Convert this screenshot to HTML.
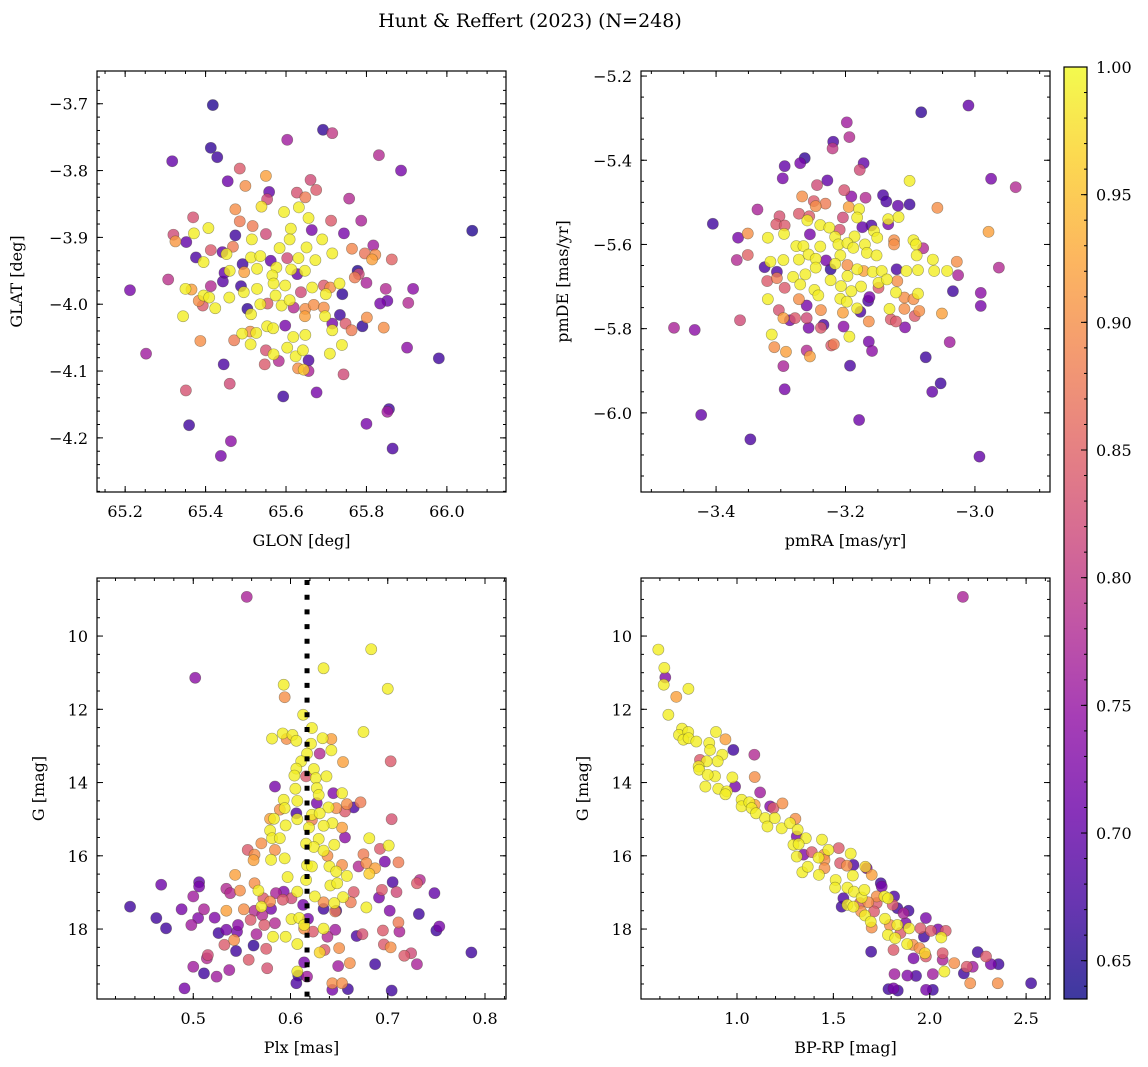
<!DOCTYPE html>
<html><head><meta charset="utf-8"><style>
body{margin:0;background:#fff;}
svg{display:block;font-family:"DejaVu Serif","Liberation Serif",serif;}
</style></head><body>
<svg id="fig" width="1148" height="1067" viewBox="0 0 1148 1067" xmlns="http://www.w3.org/2000/svg">
<defs><linearGradient id="plasma" x1="0" y1="1" x2="0" y2="0">
<stop offset="0" stop-color="#0d0887"/><stop offset="0.1" stop-color="#41049d"/><stop offset="0.2" stop-color="#6a00a8"/><stop offset="0.3" stop-color="#8f0da4"/><stop offset="0.4" stop-color="#b12a90"/><stop offset="0.5" stop-color="#cc4778"/><stop offset="0.6" stop-color="#e16462"/><stop offset="0.7" stop-color="#f2844b"/><stop offset="0.8" stop-color="#fca636"/><stop offset="0.9" stop-color="#fcce25"/><stop offset="1" stop-color="#f0f921"/>
</linearGradient></defs>
<text x="530" y="27" font-size="19" text-anchor="middle">Hunt &amp; Reffert (2023) (N=248)</text>
</svg>
<script>
// ---- data: top-left (sky position)
const glon=[65.418,65.692,65.715,65.603,65.413,65.429,65.317,65.831,65.886,65.485,65.455,65.550,65.499,65.661,65.558,65.675,65.627,65.553,65.648,65.757,65.539,65.474,65.595,65.632,65.369,65.485,65.712,65.787,65.656,65.407,65.371,65.320,65.325,65.352,65.474,65.517,65.550,65.612,65.664,65.744,65.515,65.609,65.690,65.817,65.764,65.413,65.468,65.584,65.651,65.796,65.822,65.863,65.715,65.376,65.442,65.452,65.513,65.536,65.562,65.603,65.631,65.673,65.814,65.395,65.492,65.528,65.576,65.613,65.647,65.778,65.781,65.771,65.460,65.496,65.447,65.307,65.443,65.566,65.628,65.800,65.212,65.350,65.365,65.413,65.488,65.528,65.569,65.598,65.665,65.694,65.710,65.733,65.740,65.848,65.916,66.063,65.395,65.409,65.459,65.495,65.574,65.637,65.699,65.834,65.852,65.904,65.383,65.393,65.424,65.504,65.536,65.554,65.589,65.609,65.619,65.648,65.669,65.694,65.344,65.513,65.647,65.697,65.734,65.748,65.715,65.801,65.790,65.763,65.843,65.715,65.598,65.553,65.568,65.511,65.491,65.526,65.648,65.387,65.471,65.512,65.618,65.739,65.901,65.252,65.550,65.569,65.603,65.624,65.642,65.709,65.980,65.445,65.547,65.582,65.656,65.630,65.644,65.656,65.743,65.460,65.351,65.593,65.676,65.856,65.852,65.359,65.800,65.463,65.865,65.438];
const glat=[-3.702,-3.739,-3.744,-3.754,-3.766,-3.780,-3.786,-3.777,-3.800,-3.797,-3.816,-3.808,-3.823,-3.814,-3.832,-3.829,-3.833,-3.843,-3.840,-3.842,-3.854,-3.858,-3.862,-3.855,-3.870,-3.876,-3.875,-3.875,-3.871,-3.886,-3.894,-3.896,-3.906,-3.907,-3.897,-3.883,-3.895,-3.887,-3.889,-3.894,-3.903,-3.903,-3.903,-3.912,-3.917,-3.919,-3.914,-3.916,-3.915,-3.924,-3.926,-3.933,-3.924,-3.930,-3.922,-3.925,-3.930,-3.928,-3.935,-3.931,-3.931,-3.934,-3.933,-3.937,-3.940,-3.947,-3.945,-3.948,-3.950,-3.950,-3.955,-3.960,-3.950,-3.952,-3.953,-3.963,-3.966,-3.957,-3.955,-3.968,-3.979,-3.977,-3.978,-3.973,-3.973,-3.977,-3.969,-3.972,-3.975,-3.972,-3.975,-3.969,-3.985,-3.977,-3.977,-3.890,-3.987,-3.990,-3.990,-3.982,-3.987,-3.982,-3.985,-3.999,-3.995,-3.998,-3.995,-4.002,-4.006,-4.007,-4.000,-3.999,-4.002,-3.994,-4.005,-4.007,-4.001,-4.005,-4.018,-4.015,-4.018,-4.018,-4.016,-4.029,-4.029,-4.020,-4.033,-4.039,-4.035,-4.039,-4.032,-4.033,-4.036,-4.041,-4.044,-4.043,-4.046,-4.055,-4.054,-4.060,-4.049,-4.061,-4.065,-4.074,-4.069,-4.075,-4.065,-4.078,-4.069,-4.074,-4.081,-4.090,-4.090,-4.085,-4.084,-4.096,-4.098,-4.100,-4.105,-4.119,-4.129,-4.138,-4.132,-4.157,-4.161,-4.181,-4.179,-4.205,-4.216,-4.227];
const probSky=[.65,.66,.80,.76,.66,.67,.70,.78,.72,.84,.71,.92,.90,.82,.70,.84,.83,.82,.88,.78,.98,.90,.99,.99,.83,.88,.84,.77,.99,.99,.99,.82,.91,.70,.67,.88,.82,.99,.72,.72,.99,.99,.99,.76,.89,.84,.88,.99,.99,.87,.90,.85,.99,.68,.70,.99,.99,.99,.70,.82,.99,.99,.92,.99,.67,.99,.99,.99,.99,.65,.82,.88,.99,.92,.70,.79,.69,.99,.70,.77,.72,.99,.92,.78,.67,.99,.99,.99,.99,.84,.90,.99,.66,.78,.74,.65,.99,.99,.99,.99,.99,.82,.99,.72,.71,.78,.90,.84,.99,.66,.99,.84,.99,.99,.78,.90,.90,.90,.99,.99,.92,.99,.67,.84,.72,.90,.66,.88,.90,.99,.72,.99,.99,.90,.99,.99,.99,.90,.88,.99,.99,.99,.74,.76,.83,.99,.99,.99,.99,.99,.67,.68,.84,.78,.68,.90,.96,.77,.82,.82,.83,.67,.72,.67,.76,.67,.72,.74,.68,.72];
// ---- data: top-right (proper motion)
const pmra=[-3.010,-3.083,-3.198,-3.194,-3.219,-3.220,-3.263,-3.270,-3.172,-3.178,-3.294,-3.297,-2.975,-2.937,-3.101,-3.228,-3.244,-3.202,-3.191,-3.169,-3.142,-3.137,-3.119,-3.101,-3.267,-3.249,-3.231,-3.246,-3.058,-3.195,-3.179,-3.336,-3.405,-3.302,-3.272,-3.256,-3.204,-3.182,-3.134,-3.118,-2.979,-3.307,-3.294,-3.259,-3.239,-3.225,-3.209,-3.174,-3.160,-3.134,-3.156,-3.366,-3.351,-3.295,-3.320,-3.255,-3.216,-3.186,-3.151,-3.125,-3.095,-3.276,-3.265,-3.239,-3.211,-3.197,-3.170,-3.125,-3.080,-3.091,-3.368,-3.351,-3.272,-3.257,-3.246,-3.230,-3.208,-3.188,-3.167,-3.152,-3.090,-3.065,-3.028,-2.963,-3.325,-3.316,-3.296,-3.306,-3.321,-3.306,-3.281,-3.262,-3.246,-3.223,-3.216,-3.197,-3.182,-3.172,-3.158,-3.144,-3.121,-3.106,-3.088,-3.063,-3.043,-3.026,-3.294,-3.270,-3.223,-3.197,-3.207,-3.176,-3.149,-3.136,-3.120,-3.149,-3.034,-2.991,-3.320,-3.272,-3.248,-3.242,-3.191,-3.163,-3.165,-3.122,-3.109,-3.095,-3.088,-3.208,-3.198,-2.991,-3.303,-3.260,-3.238,-3.204,-3.177,-3.182,-3.132,-3.109,-3.086,-3.093,-3.051,-3.363,-3.465,-3.433,-3.296,-3.286,-3.278,-3.260,-3.257,-3.234,-3.238,-3.203,-3.164,-3.130,-3.122,-3.108,-3.314,-3.194,-3.310,-3.292,-3.260,-3.255,-3.222,-3.218,-3.164,-3.159,-3.039,-3.296,-3.193,-3.076,-3.294,-3.053,-3.066,-3.423,-3.179,-3.347,-2.993];
const pmde=[-5.270,-5.286,-5.310,-5.345,-5.356,-5.372,-5.395,-5.407,-5.407,-5.423,-5.414,-5.443,-5.444,-5.464,-5.449,-5.448,-5.459,-5.471,-5.486,-5.489,-5.483,-5.498,-5.508,-5.505,-5.486,-5.497,-5.503,-5.509,-5.513,-5.511,-5.516,-5.517,-5.551,-5.533,-5.527,-5.533,-5.536,-5.536,-5.540,-5.535,-5.570,-5.552,-5.555,-5.543,-5.554,-5.560,-5.565,-5.559,-5.555,-5.552,-5.568,-5.584,-5.574,-5.575,-5.584,-5.576,-5.582,-5.581,-5.584,-5.590,-5.590,-5.604,-5.604,-5.605,-5.600,-5.597,-5.600,-5.600,-5.609,-5.600,-5.637,-5.625,-5.636,-5.624,-5.634,-5.638,-5.626,-5.608,-5.620,-5.626,-5.626,-5.636,-5.641,-5.655,-5.654,-5.641,-5.637,-5.665,-5.687,-5.680,-5.677,-5.671,-5.655,-5.659,-5.646,-5.649,-5.659,-5.663,-5.665,-5.663,-5.659,-5.663,-5.661,-5.663,-5.663,-5.673,-5.703,-5.695,-5.685,-5.675,-5.699,-5.700,-5.691,-5.683,-5.687,-5.703,-5.711,-5.715,-5.730,-5.730,-5.708,-5.721,-5.711,-5.725,-5.734,-5.714,-5.726,-5.730,-5.717,-5.729,-5.736,-5.746,-5.756,-5.745,-5.756,-5.762,-5.760,-5.752,-5.753,-5.753,-5.758,-5.770,-5.764,-5.780,-5.798,-5.803,-5.775,-5.780,-5.775,-5.775,-5.798,-5.791,-5.798,-5.795,-5.783,-5.778,-5.783,-5.797,-5.814,-5.819,-5.844,-5.855,-5.852,-5.866,-5.840,-5.837,-5.831,-5.853,-5.832,-5.889,-5.888,-5.868,-5.944,-5.930,-5.950,-6.005,-6.017,-6.063,-6.104];
const probPm=[.70,.66,.76,.78,.68,.80,.66,.72,.70,.82,.70,.72,.72,.78,.99,.70,.82,.83,.74,.78,.68,.68,.70,.67,.90,.84,.88,.90,.90,.92,.99,.77,.67,.83,.84,.84,.82,.99,.99,.99,.92,.84,.84,.99,.99,.99,.83,.70,.68,.72,.99,.72,.90,.99,.99,.72,.99,.99,.99,.90,.99,.99,.99,.99,.99,.99,.99,.90,.78,.99,.78,.85,.99,.99,.99,.72,.99,.99,.99,.99,.99,.99,.90,.78,.68,.99,.99,.68,.84,.88,.99,.99,.99,.66,.99,.90,.99,.92,.99,.99,.68,.99,.99,.99,.99,.77,.84,.99,.99,.99,.99,.99,.99,.99,.90,.84,.67,.74,.99,.90,.99,.99,.99,.72,.68,.99,.90,.90,.99,.99,.99,.72,.83,.72,.90,.92,.68,.99,.99,.90,.90,.84,.92,.82,.77,.74,.92,.72,.84,.82,.72,.68,.84,.74,.90,.84,.84,.73,.99,.99,.90,.92,.78,.92,.84,.88,.72,.74,.76,.77,.68,.67,.72,.67,.70,.70,.71,.68,.70];
// ---- data: bottom-left (parallax vs G)
const plx=[.555,.502,.683,.634,.700,.593,.594,.613,.622,.675,.581,.592,.596,.602,.606,.621,.633,.642,.630,.642,.617,.611,.654,.703,.606,.624,.616,.604,.626,.637,.584,.605,.627,.629,.644,.653,.593,.607,.627,.658,.672,.665,.656,.647,.639,.589,.594,.606,.622,.630,.579,.583,.607,.622,.643,.595,.619,.634,.653,.704,.579,.656,.581,.589,.629,.681,.570,.616,.624,.645,.701,.556,.584,.634,.692,.563,.562,.580,.594,.638,.675,.697,.711,.617,.622,.640,.653,.670,.678,.687,.681,.647,.658,.543,.597,.616,.641,.648,.705,.733,.730,.467,.506,.506,.563,.534,.548,.567,.607,.585,.593,.625,.654,.665,.694,.709,.748,.500,.538,.572,.579,.592,.601,.691,.634,.645,.662,.435,.488,.511,.534,.552,.563,.570,.580,.613,.634,.647,.646,.678,.702,.732,.462,.505,.522,.571,.559,.601,.609,.618,.711,.472,.498,.546,.573,.584,.614,.614,.634,.646,.695,.712,.750,.753,.526,.534,.545,.565,.582,.595,.623,.638,.668,.674,.542,.532,.544,.562,.575,.607,.635,.630,.650,.696,.703,.717,.724,.786,.515,.514,.557,.576,.500,.511,.537,.524,.614,.607,.608,.649,.661,.687,.730,.606,.643,.653,.643,.659,.704,.491,.617];
const gPlx=[8.93,11.14,10.36,10.88,11.44,11.33,11.67,12.15,12.51,12.62,12.80,12.66,12.81,12.70,12.86,12.94,12.79,12.81,13.21,13.12,13.21,13.42,13.44,13.42,13.62,13.63,13.83,13.81,13.88,13.83,14.11,14.17,14.15,14.34,14.29,14.29,14.47,14.50,14.56,14.59,14.54,14.68,14.79,14.70,14.68,14.74,14.70,14.84,14.88,14.84,14.99,14.99,15.00,15.02,15.11,15.17,15.23,15.18,15.23,15.00,15.31,15.50,15.52,15.52,15.54,15.52,15.66,15.67,15.76,15.70,15.72,15.84,15.84,15.86,15.81,15.97,16.12,16.11,16.07,16.00,15.96,16.16,16.18,16.26,16.29,16.29,16.25,16.29,16.20,16.34,16.49,16.43,16.55,16.52,16.58,16.66,16.81,16.75,16.72,16.66,16.75,16.79,16.72,16.84,16.75,16.90,16.95,16.95,16.98,17.02,16.98,17.11,17.13,16.99,16.93,16.99,17.02,17.11,17.02,17.16,17.25,17.20,17.16,17.14,17.27,17.29,17.27,17.39,17.46,17.46,17.50,17.46,17.50,17.39,17.45,17.34,17.45,17.50,17.52,17.41,17.50,17.59,17.70,17.70,17.69,17.62,17.75,17.73,17.70,17.72,17.82,17.98,17.89,17.89,17.89,17.84,17.89,17.99,17.99,18.02,18.04,18.07,18.04,17.93,18.11,18.02,18.07,18.14,18.21,18.21,18.07,18.21,18.19,18.14,18.30,18.43,18.60,18.45,18.54,18.41,18.57,18.64,18.52,18.42,18.50,18.73,18.66,18.64,18.71,18.80,18.84,19.07,19.03,19.21,19.12,19.30,18.91,19.16,19.27,19.01,18.93,18.96,18.96,19.48,19.48,19.48,19.66,19.64,19.68,19.62,19.30];
const probPlx=[.77,.74,.99,.99,.99,.99,.90,.99,.99,.99,.99,.99,.90,.99,.99,.99,.99,.92,.78,.99,.99,.99,.92,.84,.99,.99,.84,.99,.99,.99,.72,.99,.99,.99,.73,.99,.99,.99,.72,.90,.88,.68,.84,.90,.99,.90,.99,.68,.99,.99,.92,.99,.99,.88,.99,.99,.99,.99,.92,.83,.99,.74,.99,.99,.99,.99,.90,.99,.99,.99,.99,.84,.90,.99,.84,.90,.92,.99,.99,.90,.88,.72,.88,.99,.99,.99,.90,.78,.90,.92,.96,.99,.99,.92,.99,.99,.99,.99,.68,.78,.84,.71,.70,.72,.90,.78,.90,.99,.99,.77,.73,.99,.99,.84,.84,.82,.70,.76,.78,.84,.90,.84,.82,.72,.90,.99,.88,.67,.72,.77,.92,.90,.78,.99,.72,.72,.67,.67,.88,.99,.73,.67,.67,.73,.73,.78,.84,.99,.99,.72,.88,.67,.76,.74,.84,.78,.99,.90,.99,.76,.84,.77,.67,.72,.67,.72,.72,.77,.99,.99,.84,.78,.68,.83,.90,.84,.67,.66,.84,.99,.84,.97,.90,.84,.90,.84,.82,.67,.82,.78,.84,.83,.76,.67,.76,.76,.72,.99,.67,.76,.90,.67,.77,.68,.90,.90,.72,.67,.67,.72,.76];
const plxRef=[0.617];
// ---- data: bottom-right (colour-magnitude)
const bprp=[2.172,.592,.623,.628,.620,.748,.685,.644,.715,.699,.747,.722,.749,.789,.891,.940,.856,.981,1.090,.860,.924,.808,.843,.900,.801,.804,.886,.848,.976,1.092,.990,.836,.903,.947,.940,1.120,1.024,1.024,1.064,1.092,1.076,1.172,1.189,1.236,1.099,1.146,1.158,1.196,1.232,1.275,1.303,1.315,1.310,1.357,1.441,1.293,1.320,1.310,1.345,1.388,1.423,1.452,1.474,1.528,1.590,1.339,1.367,1.454,1.425,1.454,1.535,1.570,1.604,1.666,1.673,1.699,1.601,1.512,1.509,1.573,1.607,1.552,1.647,1.661,1.746,1.751,1.725,1.765,1.815,1.784,1.543,1.573,1.604,1.638,1.681,1.725,1.808,1.832,1.890,1.864,1.644,1.664,1.711,1.694,1.699,1.768,1.793,1.832,1.875,1.783,1.821,1.848,1.893,1.952,1.980,1.970,2.006,2.043,2.083,2.060,1.883,1.912,1.947,1.812,1.696,1.916,1.975,1.980,2.067,2.067,2.127,2.076,2.177,2.192,2.223,2.249,2.292,2.317,2.357,1.817,1.884,1.929,2.016,2.210,2.353,2.526,1.786,1.834,1.981,2.016,1.812];
const gCmd=[8.93,10.37,10.87,11.13,11.33,11.44,11.66,12.15,12.53,12.70,12.62,12.83,12.79,12.88,12.62,12.82,12.92,13.11,13.24,13.11,13.24,13.38,13.42,13.42,13.56,13.65,13.83,13.79,13.86,13.85,14.11,14.11,14.17,14.24,14.32,14.27,14.47,14.65,14.54,14.61,14.70,14.65,14.70,14.57,14.84,14.97,15.20,14.97,15.25,15.11,14.99,15.29,15.47,15.52,15.56,15.70,15.68,16.02,15.97,15.90,16.05,15.97,15.84,15.79,15.94,16.45,16.30,16.11,16.52,16.34,16.20,16.27,16.25,16.30,16.34,16.52,16.54,16.66,16.87,16.87,16.98,17.16,17.14,16.93,16.75,16.84,17.11,17.11,17.11,17.16,17.39,17.34,17.39,17.29,17.27,17.29,17.34,17.43,17.50,17.57,17.52,17.63,17.52,17.80,17.96,17.72,17.89,17.89,17.84,18.16,18.25,18.11,17.98,17.98,17.70,18.21,18.05,18.01,18.05,18.23,18.41,18.43,18.52,18.57,18.62,18.80,18.66,18.75,18.66,18.84,18.93,19.16,19.21,19.03,19.03,18.63,18.75,18.96,18.96,19.23,19.27,19.28,19.23,19.48,19.48,19.48,19.64,19.68,19.66,19.66,19.62];
const probCmd=[.77,.99,.99,.73,.99,.99,.92,.99,.99,.99,.99,.99,.99,.99,.99,.92,.99,.67,.78,.99,.99,.84,.99,.99,.99,.99,.99,.99,.99,.90,.72,.99,.99,.99,.99,.76,.99,.99,.99,.92,.99,.73,.84,.90,.99,.99,.99,.99,.99,.99,.90,.99,.72,.99,.99,.99,.99,.99,.73,.84,.99,.90,.99,.84,.99,.99,.99,.90,.99,.90,.84,.90,.68,.97,.72,.92,.99,.99,.99,.99,.99,.68,.99,.99,.67,.72,.90,.99,.68,.99,.67,.99,.99,.84,.90,.84,.84,.67,.67,.77,.90,.99,.84,.99,.90,.99,.90,.99,.72,.99,.99,.84,.99,.84,.72,.67,.84,.72,.84,.99,.99,.90,.90,.84,.67,.72,.97,.84,.84,.77,.90,.99,.67,.84,.76,.67,.84,.72,.67,.76,.73,.68,.76,.90,.90,.67,.67,.67,.72,.67,.72];
// ---- ticks
const ticksGlon=[65.2,65.4,65.6,65.8,66.0], ticksGlat=[-3.7,-3.8,-3.9,-4.0,-4.1,-4.2];
const ticksPmra=[-3.4,-3.2,-3.0], ticksPmde=[-5.2,-5.4,-5.6,-5.8,-6.0];
const ticksPlx=[0.5,0.6,0.7,0.8], ticksG=[10,12,14,16,18];
const ticksBprp=[1.0,1.5,2.0,2.5];
const cbTicks=[0.65,0.70,0.75,0.80,0.85,0.90,0.95,1.00];
const vmin=0.635, vmax=1.0;

const NS="http://www.w3.org/2000/svg";
const fig=document.getElementById('fig');
function el(tag,attrs,parent){const e=document.createElementNS(NS,tag);for(const k in attrs)e.setAttribute(k,attrs[k]);(parent||fig).appendChild(e);return e;}
const stops=[[13,8,135],[65,4,157],[106,0,168],[143,13,164],[177,42,144],[204,71,120],[225,100,98],[242,132,75],[252,166,54],[252,206,37],[240,249,33]];
function cmap(v){let t=(v-vmin)/(vmax-vmin);t=Math.max(0,Math.min(1,t))*10;const i=Math.min(9,Math.floor(t)),f=t-i;const a=stops[i],b=stops[i+1];return `rgb(${Math.round(a[0]+(b[0]-a[0])*f)},${Math.round(a[1]+(b[1]-a[1])*f)},${Math.round(a[2]+(b[2]-a[2])*f)})`;}
function fmt(v,d){const s=Math.abs(v).toFixed(d);return (v<0?'\u2212':'')+s;}

function panel(cfg){
  const g=el('g',{});  
  const W=cfg.x1-cfg.x0,H=cfg.y1-cfg.y0;
  const sx=v=>cfg.x0+(v-cfg.xl)/(cfg.xr-cfg.xl)*W;
  const sy=v=>cfg.y0+(v-cfg.yt)/(cfg.yb-cfg.yt)*H;
  const pts=el('g',{},g);  
  const idx=cfg.c.map((_,i)=>i).sort((a,b)=>cfg.c[a]-cfg.c[b]);
  for(const i of idx){
    const c=el('circle',{cx:sx(cfg.x[i]),cy:sy(cfg.y[i]),r:5.6,fill:cmap(cfg.c[i]),'fill-opacity':0.8,stroke:'rgba(60,60,40,0.45)','stroke-width':0.6},pts);
    
    
  }
  if(cfg.vline){for(const v of cfg.vline){const l=el('line',{x1:sx(v),x2:sx(v),y1:cfg.y0+2,y2:cfg.y1,stroke:'#000','stroke-width':5,'stroke-dasharray':'5 9.7'},g);
    
    }}
  const fr=el('rect',{x:cfg.x0,y:cfg.y0,width:W,height:H,fill:'none',stroke:'#000','stroke-width':1.2},g);
  
  
  const tk=el('g',{stroke:'#000','stroke-width':1},g);
  const lo=Math.min(cfg.xl,cfg.xr),hi=Math.max(cfg.xl,cfg.xr);
  for(let v=Math.ceil(lo/cfg.xm-1e-6)*cfg.xm;v<=hi;v+=cfg.xm){const x=sx(v);el('line',{x1:x,x2:x,y1:cfg.y1,y2:cfg.y1-3},tk);el('line',{x1:x,x2:x,y1:cfg.y0,y2:cfg.y0+3},tk);}
  const ylo=Math.min(cfg.yt,cfg.yb),yhi=Math.max(cfg.yt,cfg.yb);
  for(let v=Math.ceil(ylo/cfg.ym-1e-6)*cfg.ym;v<=yhi;v+=cfg.ym){const y=sy(v);el('line',{y1:y,y2:y,x1:cfg.x0,x2:cfg.x0+3},tk);el('line',{y1:y,y2:y,x1:cfg.x1,x2:cfg.x1-3},tk);}
  for(const v of cfg.xt){const x=sx(v);el('line',{x1:x,x2:x,y1:cfg.y1,y2:cfg.y1-6},tk);el('line',{x1:x,x2:x,y1:cfg.y0,y2:cfg.y0+6},tk);
    const t=el('text',{x:x,y:cfg.y1+25,'font-size':16,'text-anchor':'middle'},g);t.textContent=fmt(v,cfg.xd);
    
    }
  for(const v of cfg.yt_){const y=sy(v);el('line',{y1:y,y2:y,x1:cfg.x0,x2:cfg.x0+6},tk);el('line',{y1:y,y2:y,x1:cfg.x1,x2:cfg.x1-6},tk);
    const t=el('text',{x:cfg.x0-9,y:y+6,'font-size':16,'text-anchor':'end'},g);t.textContent=fmt(v,cfg.yd);
    
    }
  const xl=el('text',{x:(cfg.x0+cfg.x1)/2,y:cfg.y1+54,'font-size':16,'text-anchor':'middle'},g);xl.textContent=cfg.xlab;
  
  
  const yl=el('text',{x:0,y:0,'font-size':16,'text-anchor':'middle',transform:`translate(${cfg.ylx},${(cfg.y0+cfg.y1)/2}) rotate(-90)`},g);yl.textContent=cfg.ylab;
  
  
}
panel({name:'sky-panel',x0:97,x1:506,y0:71,y1:492,xl:65.13,xr:66.147,yt:-3.651,yb:-4.281,x:glon,y:glat,c:probSky,xt:ticksGlon,yt_:ticksGlat,xm:0.05,ym:0.02,xd:1,yd:1,xlab:'GLON [deg]',ylab:'GLAT [deg]',ylx:22});
panel({name:'pm-panel',x0:641,x1:1050,y0:71,y1:492,xl:-3.516,xr:-2.884,yt:-5.188,yb:-6.188,x:pmra,y:pmde,c:probPm,xt:ticksPmra,yt_:ticksPmde,xm:0.05,ym:0.05,xd:1,yd:1,xlab:'pmRA [mas/yr]',ylab:'pmDE [mas/yr]',ylx:568});
panel({name:'plx-panel',x0:97,x1:506,y0:578,y1:999,xl:0.401,xr:0.8216,yt:8.415,yb:19.91,x:plx,y:gPlx,c:probPlx,xt:ticksPlx,yt_:ticksG,xm:0.02,ym:0.5,xd:1,yd:0,xlab:'Plx [mas]',ylab:'G [mag]',ylx:44,vline:plxRef});
panel({name:'cmd-panel',x0:641,x1:1050,y0:578,y1:999,xl:0.502,xr:2.624,yt:8.415,yb:19.91,x:bprp,y:gCmd,c:probCmd,xt:ticksBprp,yt_:ticksG,xm:0.1,ym:0.5,xd:1,yd:0,xlab:'BP-RP [mag]',ylab:'G [mag]',ylx:588});

// colorbar
const cb=el('g',{});  
const cbx=1064,cbw=23,cby0=67,cby1=999;
el('rect',{x:cbx,y:cby0,width:cbw,height:cby1-cby0,fill:'url(#plasma)','fill-opacity':0.8},cb);
el('rect',{x:cbx,y:cby0,width:cbw,height:cby1-cby0,fill:'none',stroke:'#000','stroke-width':1.2},cb);
const cy=v=>cby1-(v-vmin)/(vmax-vmin)*(cby1-cby0);
for(let v=0.64;v<=1.0001;v+=0.01){const y=cy(v);el('line',{x1:cbx+cbw,x2:cbx+cbw-3,y1:y,y2:y,stroke:'#000','stroke-width':1},cb);}
for(const v of cbTicks){const y=cy(v);el('line',{x1:cbx+cbw,x2:cbx+cbw-6,y1:y,y2:y,stroke:'#000','stroke-width':1},cb);
  const t=el('text',{x:cbx+cbw+9,y:y+6,'font-size':16},cb);t.textContent=v.toFixed(2);
  
  }
</script>
</body></html>
